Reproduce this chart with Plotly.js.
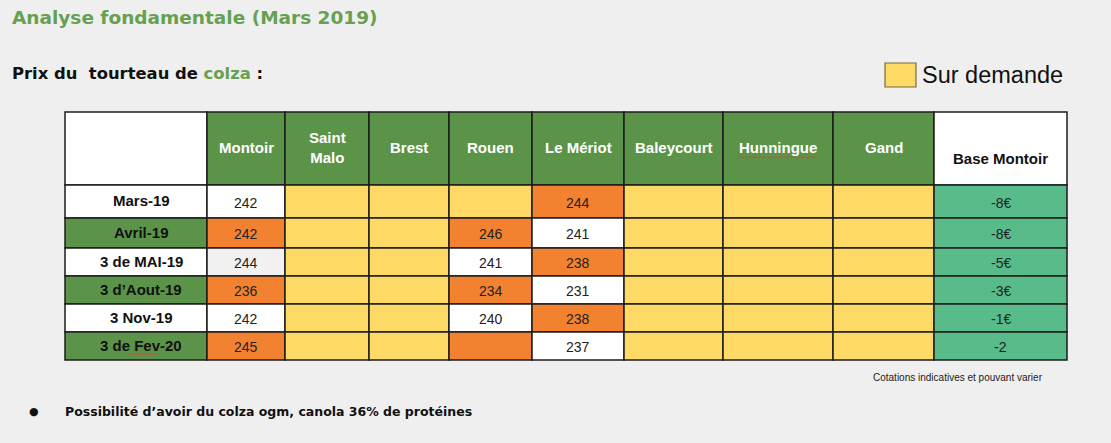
<!DOCTYPE html>
<html>
<head>
<meta charset="utf-8">
<script src="https://cdn.plot.ly/plotly-3.0.1.min.js"></script>
<style>
  html, body { margin: 0; padding: 0; background: #efefef; }
  #plot { width: 1111px; height: 443px; }
</style>
</head>
<body>
<div id="plot"></div>
<script>
// table content
const columns = ['', 'Montoir', 'Saint<br>Malo', 'Brest', 'Rouen', 'Le Mériot', 'Baleycourt', 'Hunningue', 'Gand', 'Base Montoir'];
const months = ['Mars-19', 'Avril-19', '3 de MAI-19', '3 d’Aout-19', '3 Nov-19', '3 de Fev-20'];
const montoir = [242, 242, 244, 236, 242, 245];
const saintMalo = [null, null, null, null, null, null];
const brest = [null, null, null, null, null, null];
const rouen = [null, 246, 241, 234, 240, null];
const leMeriot = [244, 241, 238, 231, 238, 237];
const baleycourt = [null, null, null, null, null, null];
const hunningue = [null, null, null, null, null, null];
const gand = [null, null, null, null, null, null];
const baseMontoir = ['-8€', '-8€', '-5€', '-3€', '-1€', '-2'];

// cell status: w = white, o = orange, g = grey, y = sur demande, t = base, k = green
const monthFill = ['w', 'k', 'w', 'k', 'w', 'k'];
const montoirFill = ['w', 'o', 'g', 'o', 'w', 'o'];
const rouenFill = ['y', 'o', 'w', 'o', 'w', 'o'];
const meriotFill = ['o', 'w', 'o', 'w', 'o', 'w'];
const demandeFill = ['y', 'y', 'y', 'y', 'y', 'y'];
const baseFill = ['t', 't', 't', 't', 't', 't'];

const values = [months, montoir, saintMalo, brest, rouen, leMeriot, baleycourt, hunningue, gand, baseMontoir];
const fills = [monthFill, montoirFill, demandeFill, demandeFill, rouenFill, meriotFill, demandeFill, demandeFill, demandeFill, baseFill];

const palette = {
  w: '#ffffff', o: '#f2822f', g: '#f1f1f1', y: '#ffd966', t: '#57bb8a', k: '#5b9449'
};
const headerGreen = '#5b9449';
const titleGreen = '#66a050';

// geometry (pixels)
const colEdges = [65, 207, 285, 369, 449, 532, 624, 723, 833, 934, 1067];
const rowEdges = [112, 185, 218, 248, 276, 304, 332, 360];

const shapes = [];
const annotations = [];

function cell(x0, x1, y0, y1, fill) {
  shapes.push({
    type: 'rect', xref: 'x', yref: 'y', x0: x0, x1: x1, y0: y0, y1: y1,
    fillcolor: fill, line: {color: '#1c1c1c', width: 1.5}, layer: 'below'
  });
}

function label(x, y, text, size, color, bold, family, anchor) {
  annotations.push({
    xref: 'x', yref: 'y', x: x, y: y, text: text, showarrow: false,
    xanchor: anchor || 'center', yanchor: 'middle',
    font: {family: family || 'Liberation Sans, Arial, sans-serif', size: size, color: color, weight: bold ? 700 : 400}
  });
}

// header row
for (let c = 0; c < columns.length; c++) {
  const x0 = colEdges[c], x1 = colEdges[c + 1];
  const isGreen = c > 0 && c < columns.length - 1;
  cell(x0, x1, rowEdges[0], rowEdges[1], isGreen ? headerGreen : '#ffffff');
  if (columns[c]) {
    const yMid = c === columns.length - 1 ? 158 : 147;
    label((x0 + x1) / 2, yMid, columns[c], 15, isGreen ? '#ffffff' : '#111111', true);
  }
}

// body rows
for (let r = 0; r < months.length; r++) {
  const y0 = rowEdges[r + 1], y1 = rowEdges[r + 2];
  for (let c = 0; c < values.length; c++) {
    const x0 = colEdges[c], x1 = colEdges[c + 1];
    cell(x0, x1, y0, y1, palette[fills[c][r]]);
    const v = values[c][r];
    if (v !== null && v !== undefined) {
      if (c === 0) {
        label((x0 + x1) / 2 + 5, (y0 + y1) / 2 - 1, String(v), 15, '#111111', true);
      } else {
        label((x0 + x1) / 2, (y0 + y1) / 2 + 1, String(v), 14, '#222222', false);
      }
    }
  }
}

// spell-check squiggles (Hunningue, Fev)
function squiggle(x0, x1, y) {
  let d = 'M' + x0 + ',' + y;
  let up = true;
  for (let x = x0 + 2; x <= x1; x += 2) {
    d += ' L' + x + ',' + (up ? y - 1.5 : y);
    up = !up;
  }
  shapes.push({type: 'path', xref: 'x', yref: 'y', path: d, line: {color: '#d0463c', width: 0.8}});
}
squiggle(738, 818, 158);
squiggle(130, 158, 355);

// legend
shapes.push({
  type: 'rect', xref: 'x', yref: 'y', x0: 885, x1: 916, y0: 63, y1: 87,
  fillcolor: '#ffd966', line: {color: '#7a6a3a', width: 1.2}
});
label(920, 75, 'Sur demande', 23.5, '#111111', false, 'Liberation Sans, Arial, sans-serif', 'left');

// texts around the table
const headFont = 'DejaVu Sans, sans-serif';
label(10, 17, 'Analyse fondamentale (Mars 2019)', 18.5, titleGreen, true, headFont, 'left');
label(10, 73, 'Prix du  tourteau de <span style="color:' + titleGreen + '">colza</span> :', 16.4, '#111111', true, headFont, 'left');
label(1045, 377, 'Cotations indicatives et pouvant varier', 10, '#222222', false, 'Liberation Sans, Arial, sans-serif', 'right');
label(27, 411, '●', 11, '#111111', false, 'DejaVu Sans, sans-serif', 'left');
label(63, 411, 'Possibilité d’avoir du colza ogm, canola 36% de protéines', 12.5, '#111111', true, headFont, 'left');

const layout = {
  width: 1111,
  height: 443,
  margin: {l: 0, r: 0, t: 0, b: 0},
  paper_bgcolor: '#efefef',
  plot_bgcolor: '#efefef',
  xaxis: {range: [0, 1111], visible: false, fixedrange: true},
  yaxis: {range: [443, 0], visible: false, fixedrange: true},
  showlegend: false,
  shapes: shapes,
  annotations: annotations
};

Plotly.newPlot('plot', [], layout, {staticPlot: true, displayModeBar: false});
</script>
</body>
</html>
